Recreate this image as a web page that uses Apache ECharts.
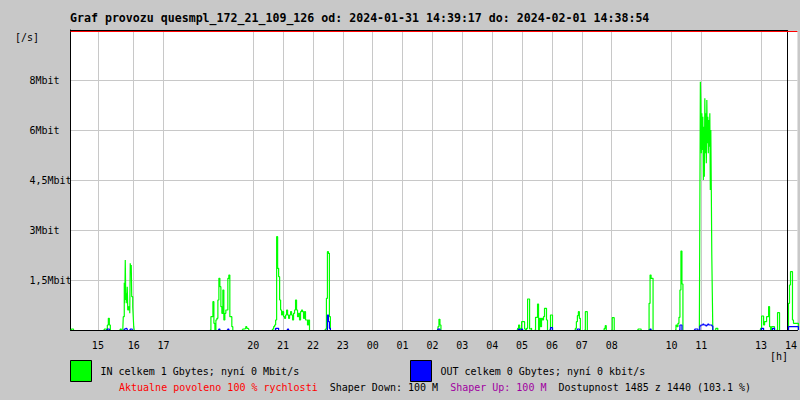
<!DOCTYPE html>
<html>
<head>
<meta charset="utf-8">
<script src="https://cdn.jsdelivr.net/npm/echarts@6/dist/echarts.min.js"></script>
<style>
html,body{margin:0;padding:0;background:#c8c8c8;}
#chart{width:800px;height:400px;}
</style>
</head>
<body>
<div id="chart"></div>
<script>
// ---- texts ----
const TITLE = 'Graf provozu quesmpl_172_21_109_126 od: 2024-01-31 14:39:17 do: 2024-02-01 14:38:54';
const IN_NAME = 'IN celkem 1 Gbytes; nyní 0 Mbit/s';
const OUT_NAME = 'OUT celkem 0 Gbytes; nyní 0 kbit/s';
const SAMPLES_AVAILABLE = 1485;
const SAMPLES_EXPECTED = 1440;

// ---- x axis (minutes from start of graph) ----
const X_MAX = 1460;
const hourLabels = ['15','16','17','20','21','22','23','00','01','02','03','04','05','06','07','08','10','11','13','14'];
const hourLabelMinutes = [55,127,187,367,427,487,547,607,667,727,787,847,907,967,1027,1087,1207,1267,1387,1447];
const hourGridMinutes = [55,127,187,367,427,487,547,607,667,727,787,847,907,967,1027,1087,1207,1267,1387];

// ---- y axis (Mbit/s) ----
const Y_MAX = 9;
const Y_STEP = 1.5;
const yTickValues = [1.5, 3, 4.5, 6, 7.5];
const yTickLabels = ['1,5Mbit', '3Mbit', '4,5Mbit', '6Mbit', '8Mbit'];
const RATE_LIMIT_LINE = 8.955;

// ---- data: bursts of traffic [startMinute, minutesPerValue, values in Mbit/s] ----
const inBursts = [
  [2, 2, [0.03, 0.03]],
  [68, 2, [0.03, 0.03, 0, 0.15, 0.35, 0.15]],
  [100, 2, [0.03]],
  [106, 1, [0.4, 0.4, 1.42, 0.8, 2.1, 0.9, 1.1, 0.8, 1.3, 0.6, 0.6, 0.7, 0.7, 0.5, 2.0, 1.8, 1.95, 1.0, 1.0, 0.7, 0.4, 0.1]],
  [282, 2, [0.4, 0.4, 0.85, 0.2, 0, 0.3, 0.35, 0.9, 1.55, 1.3, 0.7, 0.5, 1.2, 0.3, 0.5, 0.6, 0.6, 1.55, 1.65, 0.4, 0.4, 0.1]],
  [346, 2, [0.03, 0.03, 0.05, 0.1, 0.05, 0.03]],
  [406, 2, [0.03, 0.1, 0.15, 0.3, 2.8, 1.85, 1.6, 0.9, 0.6, 0.45, 0.55, 0.4, 0.35, 0.45, 0.6, 0.45, 0.35, 0.45, 0.55, 0.45, 0.3, 0.5, 0.6, 0.9, 0.6, 0.4, 0.5, 0.3, 0.55, 0.6, 0.55, 0.35, 0.55, 0.3, 0.3, 0.15, 0.3]],
  [512, 2, [0.03, 0.95, 2.35, 2.3, 0.4]],
  [738, 2, [0.1, 0.32, 0.15]],
  [898, 2, [0.05, 0.15, 0.05, 0, 0.25, 0.25, 0.25, 0.03, 0, 0.05, 0.93, 0.93, 0.03, 0.05]],
  [934, 2, [0.38, 0.38, 0.78, 0, 0.35, 0.1, 0.35, 0.3, 0.4, 0.65, 0.65, 0.3]],
  [964, 2, [0.45, 0.45]],
  [1014, 2, [0.05, 0.25, 0.43, 0.55, 0.35]],
  [1034, 2, [0.55, 0.55]],
  [1072, 2, [0.05, 0.13]],
  [1088, 2, [0.37, 0.37]],
  [1140, 2, [0.03, 0.03, 0.03]],
  [1162, 2, [0.8, 1.65, 1.55, 1.55]],
  [1216, 2, [0.15, 0.1, 0.2, 0.38, 1.2, 2.37, 1.38]],
  [1264, 1, [3.75, 7.45, 6.8, 5.3, 6.5, 5.4, 6.4, 4.5, 6.1, 4.6, 6.95, 5.3, 6.5, 5.0, 6.9, 5.6, 6.4, 5.3, 6.3, 5.5, 6.5, 4.2, 6.0, 4.2, 2.2, 1.1]],
  [1296, 2, [0.05, 0.05]],
  [1386, 2, [0.05, 0.42, 0.42, 0.15, 0.25, 0.25, 0.4, 0.4, 0.7, 0.1, 0, 0.1, 0.1, 0.1]],
  [1420, 2, [0.52, 0.52]],
  [1442, 2, [0.8, 1.35, 1.75, 1.75, 0.3, 0.2, 0.2, 0.2, 0.2, 0.2]]
];
const outBursts = [
  [74, 2, [0.03, 0.03]],
  [108, 2, [0.03, 0.05, 0.03]],
  [120, 2, [0.03, 0.03]],
  [298, 2, [0.03]],
  [316, 2, [0.03]],
  [412, 2, [0.05, 0.05, 0.05]],
  [436, 2, [0.03]],
  [516, 2, [0.45, 0.25, 0.05]],
  [738, 2, [0.03, 0.03]],
  [900, 2, [0.03]],
  [906, 2, [0.03]],
  [964, 2, [0.07, 0.07]],
  [1018, 2, [0.03, 0.03]],
  [1164, 2, [0.03]],
  [1224, 2, [0.15, 0.15]],
  [1254, 2, [0.03, 0.03, 0.03]],
  [1264, 2, [0.12, 0.15, 0.15, 0.18, 0.15, 0.15, 0.12, 0.15, 0.18, 0.15, 0.15, 0.15, 0.12]],
  [1388, 2, [0.05, 0.05]],
  [1410, 2, [0.05, 0.05]],
  [1442, 2, [0.1, 0.1, 0.1, 0.1, 0.1, 0.1, 0.1, 0.1, 0.1, 0.1]]
];

function toPoints(bursts) {
  const pts = [];
  bursts.forEach(function (b) {
    const start = b[0], step = b[1], vals = b[2];
    pts.push([start - step, 0]);
    vals.forEach(function (v, i) { pts.push([start + i * step, v]); });
    const end = start + vals.length * step;
    pts.push([end, 0]);
    pts.push([end + 0.5, '-']);
  });
  return pts;
}

const MONO = "'DejaVu Sans Mono', 'Liberation Mono', monospace";
const chart = echarts.init(document.getElementById('chart'), null, {renderer: 'svg', width: 800, height: 400});

const lineMarks = {
  silent: true,
  symbol: ['none', 'none'],
  animation: false,
  label: {show: false},
  emphasis: {disabled: true},
  data: [
    [{coord: [0, 0], lineStyle: {color: '#000', width: 1, type: 'solid'}}, {coord: [X_MAX, 0]}],
    [{coord: [0, Y_MAX], lineStyle: {color: '#000', width: 1, type: 'solid'}}, {coord: [SAMPLES_EXPECTED, Y_MAX]}],
    [{coord: [SAMPLES_EXPECTED, 0], lineStyle: {color: '#000', width: 1, type: 'solid'}}, {coord: [SAMPLES_EXPECTED, Y_MAX]}],
    [{coord: [0, RATE_LIMIT_LINE], lineStyle: {color: '#ff0000', width: 1, type: 'solid'}}, {coord: [X_MAX, RATE_LIMIT_LINE]}]
  ]
};

chart.setOption({
  animation: false,
  backgroundColor: '#c8c8c8',
  textStyle: {fontFamily: MONO},
  title: [
    {text: TITLE, left: 70, top: 12, padding: 0,
     textStyle: {fontFamily: MONO, fontSize: 11.6, fontWeight: 'bold', color: '#000'}},
    {text: '[/s]', left: 15, top: 32, padding: 0,
     textStyle: {fontFamily: MONO, fontSize: 10, fontWeight: 'normal', color: '#000'}},
    {text: '[h]', left: 770, top: 351, padding: 0,
     textStyle: {fontFamily: MONO, fontSize: 10, fontWeight: 'normal', color: '#000'}},
    {text: '{r|Aktualne povoleno 100 % rychlosti}  {k|Shaper Down: 100 M}  {p|Shaper Up: 100 M}  {k|Dostupnost ' +
           SAMPLES_AVAILABLE + ' z ' + SAMPLES_EXPECTED + ' (' + (SAMPLES_AVAILABLE / SAMPLES_EXPECTED * 100).toFixed(1) + ' %)}',
     left: 119, top: 382, padding: 0,
     textStyle: {fontFamily: MONO, fontSize: 10, fontWeight: 'normal', color: '#000',
       rich: {
         r: {fontFamily: MONO, fontSize: 10, color: '#ff0000'},
         k: {fontFamily: MONO, fontSize: 10, color: '#000000'},
         p: {fontFamily: MONO, fontSize: 10, color: '#a000a0'}
       }}}
  ],
  legend: [
    {data: [IN_NAME], left: 70, top: 360, padding: 0, itemWidth: 21, itemHeight: 21, icon: 'rect',
     itemStyle: {borderColor: '#000', borderWidth: 1},
     textStyle: {fontFamily: MONO, fontSize: 10, color: '#000', padding: [0, 0, 6, 4]}},
    {data: [OUT_NAME], left: 410, top: 360, padding: 0, itemWidth: 21, itemHeight: 21, icon: 'rect',
     itemStyle: {borderColor: '#000', borderWidth: 1},
     textStyle: {fontFamily: MONO, fontSize: 10, color: '#000', padding: [0, 0, 6, 4]}}
  ],
  grid: {left: 70.5, top: 30, width: 730, height: 300, containLabel: false, show: true,
         backgroundColor: '#ffffff', borderWidth: 0},
  xAxis: {
    type: 'value', min: 0, max: X_MAX,
    axisLine: {show: true, onZero: false, lineStyle: {color: '#000', width: 1}},
    axisTick: {show: false, customValues: hourGridMinutes},
    axisLabel: {show: true, customValues: hourLabelMinutes, margin: 10,
      fontFamily: MONO, fontSize: 10, color: '#000',
      formatter: function (v) { const i = hourLabelMinutes.indexOf(v); return i >= 0 ? hourLabels[i] : ''; }},
    splitLine: {show: true, lineStyle: {color: '#c8c8c8', width: 1}}
  },
  yAxis: {
    type: 'value', min: 0, max: Y_MAX, interval: Y_STEP,
    axisLine: {show: true, lineStyle: {color: '#000', width: 1}},
    axisTick: {show: false},
    axisLabel: {show: true, margin: 41, align: 'left', fontFamily: MONO, fontSize: 10, color: '#000',
      padding: [4, 0, 0, 0],
      formatter: function (v) { const i = yTickValues.indexOf(v); return i >= 0 ? yTickLabels[i] : ''; }},
    splitLine: {show: true, lineStyle: {color: '#c8c8c8', width: 1}}
  },
  series: [
    {name: IN_NAME, type: 'line', step: 'end', showSymbol: false, symbol: 'none',
     data: toPoints(inBursts), connectNulls: false,
     itemStyle: {color: '#00ff00'}, lineStyle: {color: '#00ff00', width: 1.2}, z: 2},
    {name: OUT_NAME, type: 'line', step: 'end', showSymbol: false, symbol: 'none',
     data: toPoints(outBursts), connectNulls: false,
     itemStyle: {color: '#0000ff'}, lineStyle: {color: '#0000ff', width: 1.2}, z: 3,
     markLine: lineMarks}
  ]
});
</script>
</body>
</html>
